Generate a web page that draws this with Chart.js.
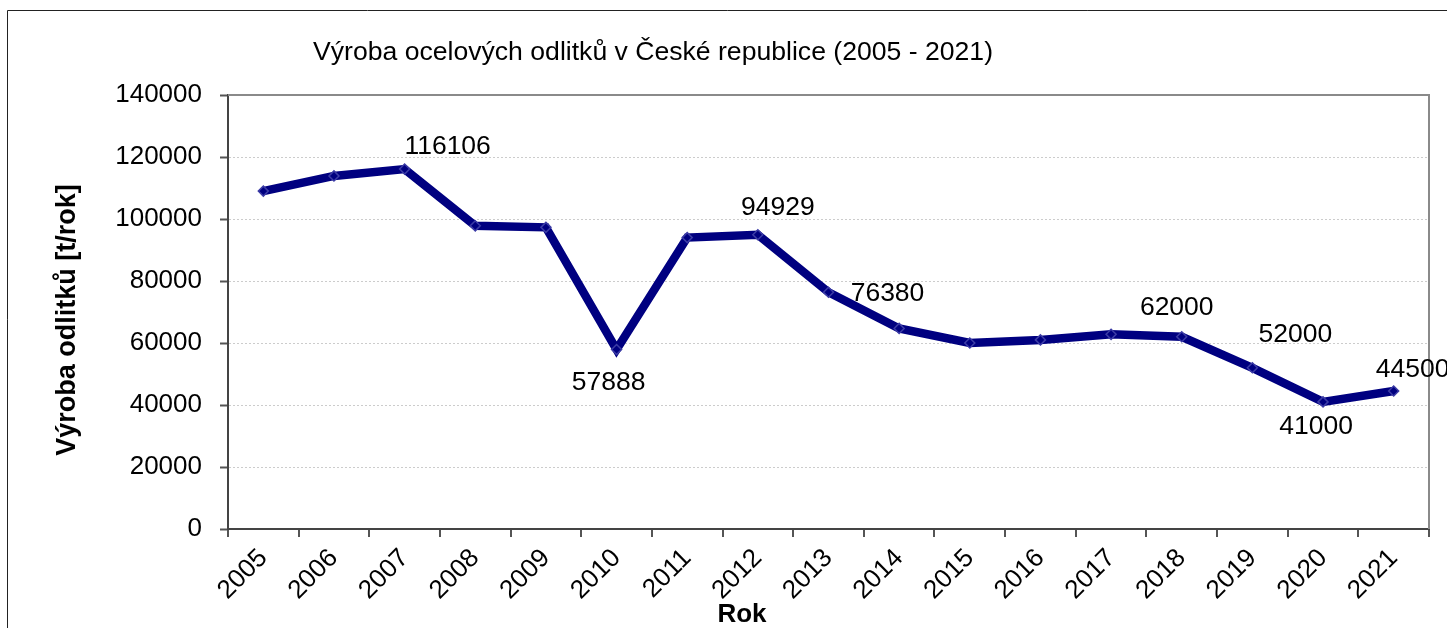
<!DOCTYPE html>
<html>
<head>
<meta charset="utf-8">
<title>Výroba ocelových odlitků</title>
<script src="https://cdn.jsdelivr.net/npm/chart.js@4"></script>
<style>
  body { margin: 0; background: #fff; }
  canvas { display: block; }
</style>
</head>
<body>
<canvas id="myChart" width="1447" height="628"></canvas>
<script>
const years = ["2005", "2006", "2007", "2008", "2009", "2010", "2011", "2012", "2013",
  "2014", "2015", "2016", "2017", "2018", "2019", "2020", "2021"];
// t/rok (labelled ones are exact)
const production = [109000, 113900, 116106, 97800, 97300, 57888, 94000, 94929, 76380,
  64700, 60000, 61000, 62800, 62000, 52000, 41000, 44500];
// which points carry a value label
const labelled = [false, false, true, false, false, true, false, true, true,
  false, false, false, false, true, true, true, true];
const yTicks = [0, 20000, 40000, 60000, 80000, 100000, 120000, 140000];

const chartTitle = "Výroba ocelových odlitků v České republice (2005 - 2021)";
const yTitle = "Výroba odlitků [t/rok]";
const xTitle = "Rok";

// label offsets from the point (px), just placement
const labelOffsets = {
  2: [43, -22], 5: [-8, 33], 7: [20, -27], 8: [59, 1],
  13: [-5, -29], 14: [43, -33], 15: [-7, 25], 16: [19, -21]
};

const FONT = "'Liberation Sans', Arial, sans-serif";

const extras = {
  id: "extras",
  beforeDraw(chart) {
    const ctx = chart.ctx;
    ctx.save();
    // outer frame (top + left, the rest is off the picture)
    ctx.strokeStyle = "#222";
    ctx.lineWidth = 1;
    ctx.beginPath();
    ctx.moveTo(7.5, 700);
    ctx.lineTo(7.5, 10.5);
    ctx.lineTo(1500, 10.5);
    ctx.stroke();
    ctx.restore();
  },
  afterDatasetsDraw(chart) {
    const ctx = chart.ctx;
    const a = chart.chartArea;
    const meta = chart.getDatasetMeta(0);
    ctx.save();
    // plot frame top + right
    ctx.strokeStyle = "#8a8a8a";
    ctx.lineWidth = 2;
    ctx.beginPath();
    ctx.moveTo(a.left, a.top);
    ctx.lineTo(a.right, a.top);
    ctx.lineTo(a.right, a.bottom);
    ctx.stroke();

    // value labels
    ctx.fillStyle = "#000";
    ctx.font = "26.5px " + FONT;
    ctx.textAlign = "center";
    ctx.textBaseline = "middle";
    meta.data.forEach((pt, i) => {
      if (!labelled[i]) return;
      const off = labelOffsets[i] || [0, -25];
      ctx.fillText(String(production[i]), pt.x + off[0], pt.y + off[1]);
    });

    // titles
    ctx.font = "26.6px " + FONT;
    ctx.textAlign = "left";
    ctx.textBaseline = "alphabetic";
    ctx.fillText(chartTitle, 313, 60);

    ctx.font = "bold 26px " + FONT;
    ctx.textAlign = "center";
    ctx.fillText(xTitle, 742, 622);

    ctx.font = "bold 27px " + FONT;
    ctx.translate(68, 320);
    ctx.rotate(-Math.PI / 2);
    ctx.textBaseline = "middle";
    ctx.fillText(yTitle, 0, 0);
    ctx.restore();
  }
};

function createTheChart() {
  const ctx = document.getElementById("myChart").getContext("2d");
  return new Chart(ctx, {
    type: "line",
    data: {
      labels: years,
      datasets: [{
        data: production,
        borderColor: "#000080",
        borderWidth: 8.5,
        backgroundColor: "#000080",
        pointStyle: "rectRot",
        pointRadius: 5,
        pointBorderWidth: 1.5,
        pointBorderColor: "#3c3ca6",
        pointBackgroundColor: "#000080",
        tension: 0,
        fill: false
      }]
    },
    options: {
      responsive: false,
      animation: false,
      events: [],
      layout: { padding: { top: 95, right: 18, left: 0, bottom: 0 } },
      plugins: { legend: { display: false }, tooltip: { enabled: false }, title: { display: false } },
      scales: {
        x: {
          offset: true,
          grid: { offset: true, drawOnChartArea: false, drawTicks: true, tickLength: 8, tickColor: "#555", lineWidth: 2 },
          border: { color: "#444", width: 2 },
          ticks: {
            color: "#000",
            font: { family: FONT, size: 26 },
            minRotation: 45, maxRotation: 45,
            autoSkip: false,
            padding: 6
          },
          afterFit(scale) { scale.height = 99; }
        },
        y: {
          min: 0,
          max: 140000,
          afterBuildTicks(scale) { scale.ticks = yTicks.map(v => ({ value: v })); },
          grid: { color: "#cccccc", lineWidth: 1, drawTicks: true, tickLength: 8, tickColor: "#555", tickWidth: 2 },
          border: { color: "#444", width: 2, dash: [2, 2] },
          ticks: {
            color: "#000",
            font: { family: FONT, size: 26 },
            padding: 18,
            callback: (v) => String(v)
          },
          afterFit(scale) { scale.width = 228; }
        }
      }
    },
    plugins: [extras]
  });
}

createTheChart();
</script>
</body>
</html>
